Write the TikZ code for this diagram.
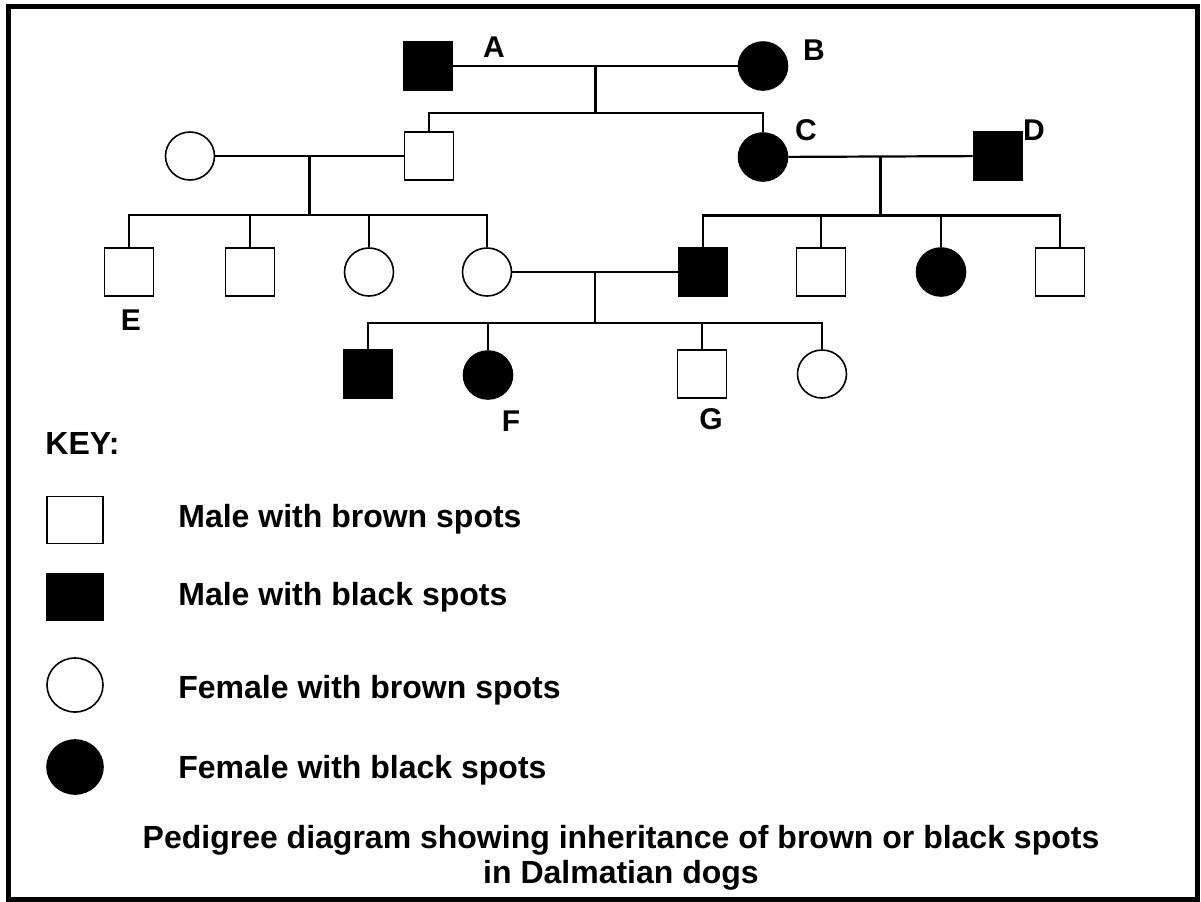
\documentclass[tikz,border=0pt]{standalone}
\usepackage{fontspec}
\setmainfont{Liberation Sans}
\usetikzlibrary{shapes.geometric,calc}

\begin{document}
\begin{tikzpicture}[x=0.5pt,y=-0.5pt,
  male/.style={rectangle,draw,line width=0.8pt,minimum width=24.5pt,minimum height=24pt,inner sep=0pt},
  female/.style={ellipse,draw,line width=0.8pt,minimum width=24.5pt,minimum height=24pt,inner sep=0pt},
  aff/.style={fill=black},
  line/.style={line width=1.1pt},
  tag/.style={font=\fontsize{15}{18}\selectfont\bfseries,inner sep=0pt},
  txt/.style={font=\fontsize{16}{17.5}\selectfont\bfseries,inner sep=0pt}]
\useasboundingbox (0,0) rectangle (1201,901);
\draw[line width=2.5pt] (8,6) rectangle (1197,899);

  % generation I
  \node[male,aff] (A) at (428,66) {};
  \node[female,aff] (B) at (763,66) {};
  % generation II
  \node[female] (W) at (190,156) {};
  \node[male] (H) at (429,156) {};
  \node[female,aff] (C) at (763,157) {};
  \node[male,aff] (D) at (998,156) {};
  % generation III
  \node[male] (E) at (129,272) {};
  \node[male] (E2) at (250,272) {};
  \node[female] (E3) at (369,272) {};
  \node[female] (E4) at (487,272) {};
  \node[male,aff] (S1) at (703,272) {};
  \node[male] (S2) at (821,272) {};
  \node[female,aff] (S3) at (941,272) {};
  \node[male] (S4) at (1060,272) {};
  % generation IV
  \node[male,aff] (K1) at (368,374) {};
  \node[female,aff] (F) at (488,375) {};
  \node[male] (G) at (702,374) {};
  \node[female] (K4) at (822,374) {};

  \node[tag] (la) at (494,47) {A};
  \node[tag] (lb) at (814,50) {B};
  \node[tag] (lc) at (806,130) {C};
  \node[tag] (ld) at (1034,130) {D};
  \node[tag] (le) at (131,320) {E};
  \node[tag] (lf) at (511,421) {F};
  \node[tag] (lg) at (711,419) {G};

  % matings and sibships
  \coordinate (ab) at ($(A)!0.5!(B)$);
  \coordinate (abk) at ($(ab)+(0,47)$);
  \draw[line] (A) -- (B);
  \draw[line] (ab) -- (abk);
  \draw[line] (abk) -| (H);
  \draw[line] (abk) -| (C);

  \coordinate (wh) at ($(W)!0.5!(H)$);
  \coordinate (whk) at ($(wh)+(0,59)$);
  \draw[line] (W) -- (H);
  \draw[line] (wh) -- (whk);
  \foreach \k in {E,E2,E3,E4} \draw[line] (whk) -| (\k);

  \coordinate (cd) at ($(C)!0.5!(D)$);
  \coordinate (cdk) at ($(cd)+(0,59)$);
  \draw[line] (C) -- (D);
  \draw[line] (cd) -- (cdk);
  \foreach \k in {S1,S2,S3,S4} \draw[line] (cdk) -| (\k);

  \coordinate (es) at ($(E4)!0.5!(S1)$);
  \coordinate (esk) at ($(es)+(0,51)$);
  \draw[line] (E4) -- (S1);
  \draw[line] (es) -- (esk);
  \foreach \k in {K1,F,G,K4} \draw[line] (esk) -| (\k);

  % key
  \node[txt,anchor=base west] (key) at (45,454) {KEY:};
  \node[male,minimum width=28pt,minimum height=23.5pt] (k1) at (75,520) {};
  \node[male,aff,minimum width=28pt,minimum height=23.5pt] (k2) at (75,597) {};
  \node[female,minimum width=28pt,minimum height=27pt] (k3) at (75,685) {};
  \node[female,aff,minimum width=28pt,minimum height=27pt] (k4) at (75,767) {};
  \node[txt,anchor=base west] (t1) at (178,527) {Male with brown spots};
  \node[txt,anchor=base west] (t2) at (178,605) {Male with black spots};
  \node[txt,anchor=base west] (t3) at (178,698) {Female with brown spots};
  \node[txt,anchor=base west] (t4) at (178,778) {Female with black spots};

  \node[txt,align=center,anchor=base] (title) at (621,883) {Pedigree diagram showing inheritance of brown or black spots\\in Dalmatian dogs};
\end{tikzpicture}
\end{document}
